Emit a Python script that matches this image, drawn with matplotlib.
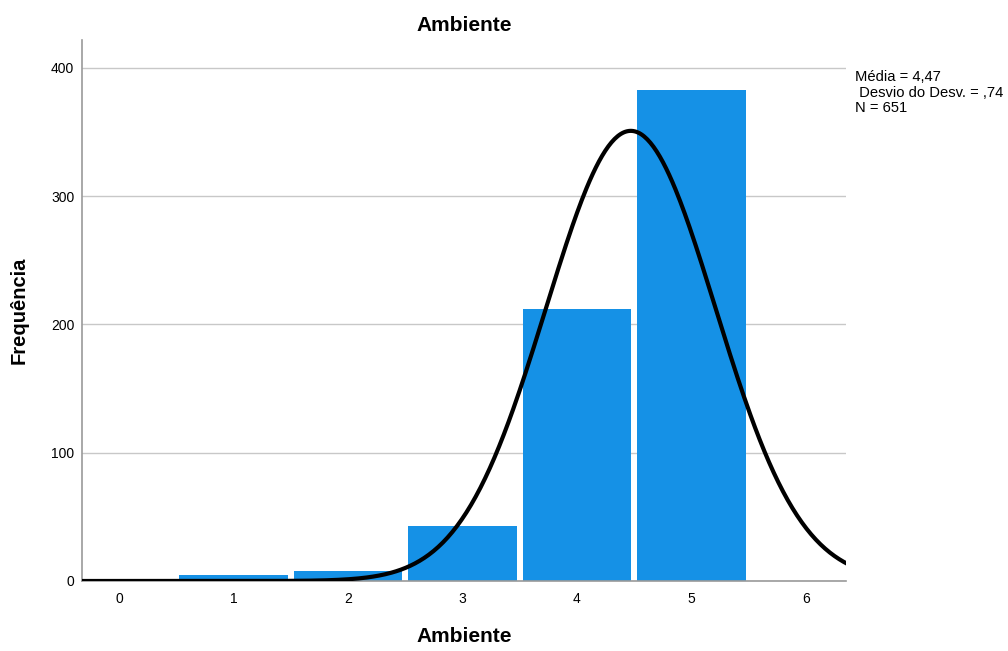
import numpy as np
import matplotlib
matplotlib.use("Agg")
import matplotlib.pyplot as plt

plt.rcParams['font.family'] = ['Liberation Sans', 'DejaVu Sans']

categories = [1, 2, 3, 4, 5]
frequencies = [5, 8, 43, 212, 383]
mean_val = 4.47
sd_val = 0.74
n_val = 651
x_ticks = [0, 1, 2, 3, 4, 5, 6]

fig = plt.figure(figsize=(10.08, 6.51), dpi=100)
ax = fig.add_axes([82/1008, 1-581/651, (846-82)/1008, (581-40)/651])

ax.bar(categories, frequencies, width=0.948, color='#1591e6', linewidth=0, zorder=2)

xs = np.linspace(-0.4, 6.4, 500)
ys = n_val * 1.0 / (sd_val * np.sqrt(2 * np.pi)) * np.exp(-0.5 * ((xs - mean_val) / sd_val) ** 2)
ax.plot(xs, ys, color='black', linewidth=3, zorder=3)

ax.set_xlim(-0.323, 6.35)
ax.set_ylim(0, 421.8)
ax.set_xticks(x_ticks)
ax.set_yticks([0, 100, 200, 300, 400])
ax.tick_params(axis='y', length=0, labelsize=10, pad=5.5)
ax.tick_params(axis='x', length=0, labelsize=10, pad=8)
ax.yaxis.grid(True, color='#c8c8c8', linewidth=1, zorder=0)
ax.set_axisbelow(True)
for s in ['top', 'right']:
    ax.spines[s].set_visible(False)
for s in ['left', 'bottom']:
    ax.spines[s].set_color('#9a9a9a')
    ax.spines[s].set_linewidth(1.2)

ax.set_title('Ambiente', fontsize=15, fontweight='bold', pad=6.5)
ax.set_xlabel('Ambiente', fontsize=15, fontweight='bold', labelpad=15)
ax.set_ylabel('Frequência', fontsize=14.5, fontweight='bold', labelpad=16)

fig.text(855/1008, 1-70/651, 'Média = 4,47\n Desvio do Desv. = ,74\nN = 651',
         fontsize=10.6, va='top', ha='left', linespacing=1.15)

fig.savefig('out.png', dpi=100)
